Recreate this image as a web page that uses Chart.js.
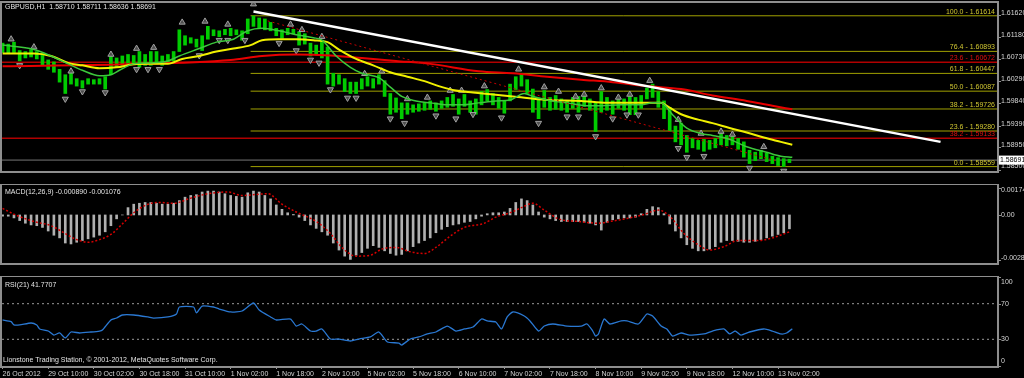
<!DOCTYPE html>
<html>
<head>
<meta charset="utf-8">
<script src="https://cdn.jsdelivr.net/npm/chart.js@4.4.0/dist/chart.umd.min.js"></script>
<style>
  html, body { margin: 0; padding: 0; background: #000; }
  #wrap { position: relative; width: 1024px; height: 378px; background: #000; overflow: hidden; }
  canvas { position: absolute; left: 0; }
</style>
</head>
<body>
<div id="wrap">
  <canvas id="main" width="1024" height="184" style="top:0px"></canvas>
  <canvas id="macd" width="1024" height="92" style="top:184px"></canvas>
  <canvas id="rsi" width="1024" height="102" style="top:276px"></canvas>
</div>
<script>
// ---- data (x = hourly bar number from 26 Oct 18:00) ----
var headerText = 'GBPUSD,H1  1.58710 1.58711 1.58636 1.58691';
var macdText = 'MACD(12,26,9) -0.000890 -0.001076';
var rsiText = 'RSI(21) 41.7707';
var footerText = 'Lionstone Trading Station, \u00a9 2001-2012, MetaQuotes Software Corp.';

var xTickLabels = ['26 Oct 2012', '29 Oct 10:00', '30 Oct 02:00', '30 Oct 18:00', '31 Oct 10:00',
  '1 Nov 02:00', '1 Nov 18:00', '2 Nov 10:00', '5 Nov 02:00', '5 Nov 18:00', '6 Nov 10:00',
  '7 Nov 02:00', '7 Nov 18:00', '8 Nov 10:00', '9 Nov 02:00', '9 Nov 18:00', '12 Nov 10:00', '13 Nov 02:00'];
var xTickStep = 16;
var xMin = -0.2, xMax = 348.8;

var priceTicks = [1.61620, 1.61180, 1.60730, 1.60290, 1.59840, 1.59390, 1.58950, 1.58500];
var macdTicks = [0.00174, 0, -0.00287];
var macdTickText = ['0.00174', '0.00', '-0.00287'];
var rsiTicks = [100, 70, 30, 0];
var rsiLevels = [70, 30];
var lastClose = 1.58691;

// one candle range per 2 bars
var candleStep = 2;
var candleHigh = [
  1.6106, 1.6104, 1.6108, 1.6091, 1.6089, 1.6093, 1.6089, 1.6085, 1.6072, 1.6068,
  1.6053, 1.6042, 1.6045, 1.6034, 1.6030, 1.6034, 1.6032, 1.6034, 1.6038, 1.6080,
  1.6076, 1.6080, 1.6083, 1.6081, 1.6089, 1.6083, 1.6089, 1.6089, 1.6080, 1.6083,
  1.6089, 1.6133, 1.6121, 1.6117, 1.6114, 1.6121, 1.6140, 1.6133, 1.6131, 1.6134,
  1.6136, 1.6133, 1.6131, 1.6155, 1.6161, 1.6157, 1.6155, 1.6148, 1.6136, 1.6133,
  1.6136, 1.6134, 1.6129, 1.6125, 1.6106, 1.6102, 1.6112, 1.6098, 1.6045, 1.6042,
  1.6034, 1.6027, 1.6027, 1.6034, 1.6038, 1.6034, 1.6042, 1.6030, 1.6004, 1.5995,
  1.5985, 1.5985, 1.5981, 1.5983, 1.5985, 1.5989, 1.5985, 1.5989, 1.5996, 1.6002,
  1.5993, 1.6002, 1.5989, 1.5993, 1.6008, 1.6012, 1.6004, 1.5996, 1.5989, 1.6023,
  1.6038, 1.6045, 1.6032, 1.6013, 1.5995, 1.6010, 1.5996, 1.6000, 1.5993, 1.5989,
  1.5996, 1.5998, 1.6002, 1.5993, 1.5985, 1.6008, 1.5996, 1.5989, 1.5996, 1.5993,
  1.6002, 1.5996, 1.6000, 1.6015, 1.6023, 1.6008, 1.5989, 1.5976, 1.5938, 1.5944,
  1.5919, 1.5913, 1.5909, 1.5911, 1.5909, 1.5913, 1.5927, 1.5919, 1.5921, 1.5913,
  1.5906, 1.5889, 1.5885, 1.5889, 1.5883, 1.5877, 1.5874, 1.5872, 1.5871
];
var candleLow = [
  1.6087, 1.6085, 1.6087, 1.6070, 1.6076, 1.6078, 1.6074, 1.6061, 1.6053, 1.6047,
  1.6027, 1.6004, 1.6023, 1.6019, 1.6015, 1.6023, 1.6023, 1.6023, 1.6013, 1.6042,
  1.6057, 1.6061, 1.6064, 1.6063, 1.6057, 1.6061, 1.6061, 1.6064, 1.6061, 1.6068,
  1.6070, 1.6089, 1.6102, 1.6106, 1.6098, 1.6091, 1.6114, 1.6121, 1.6119, 1.6123,
  1.6121, 1.6123, 1.6112, 1.6125, 1.6140, 1.6136, 1.6133, 1.6131, 1.6121, 1.6116,
  1.6123, 1.6125, 1.6102, 1.6104, 1.6080, 1.6083, 1.6076, 1.6023, 1.6019, 1.6023,
  1.6008, 1.6004, 1.6004, 1.6013, 1.6019, 1.6015, 1.6023, 1.5998, 1.5962, 1.5966,
  1.5953, 1.5962, 1.5966, 1.5968, 1.5970, 1.5972, 1.5968, 1.5974, 1.5976, 1.5978,
  1.5962, 1.5978, 1.5966, 1.5962, 1.5981, 1.5989, 1.5981, 1.5974, 1.5964, 1.5989,
  1.6012, 1.6019, 1.6004, 1.5966, 1.5953, 1.5976, 1.5970, 1.5972, 1.5970, 1.5966,
  1.5974, 1.5966, 1.5978, 1.5970, 1.5927, 1.5966, 1.5970, 1.5962, 1.5974, 1.5970,
  1.5961, 1.5961, 1.5974, 1.5993, 1.5996, 1.5976, 1.5953, 1.5928, 1.5906, 1.5900,
  1.5885, 1.5894, 1.5891, 1.5887, 1.5891, 1.5894, 1.5900, 1.5898, 1.5900, 1.5891,
  1.5875, 1.5862, 1.5868, 1.5872, 1.5866, 1.5862, 1.5858, 1.5856, 1.5864
];

// moving averages, [bar, price]
var greenMA = [[0, 1.6102], [11, 1.6093], [17, 1.6080], [23, 1.6064], [28, 1.6051], [34, 1.6040], [38, 1.6042],
  [41, 1.6051], [46, 1.6064], [52, 1.6066], [58, 1.6070], [62, 1.6080], [69, 1.6095], [75, 1.6108], [81, 1.6114],
  [86, 1.6131], [91, 1.6136], [97, 1.6131], [103, 1.6123], [109, 1.6117], [112, 1.6112], [117, 1.6080],
  [122, 1.6057], [126, 1.6045], [132, 1.6036], [136, 1.6017], [140, 1.5998], [145, 1.5989], [150, 1.5985],
  [156, 1.5981], [161, 1.5981], [167, 1.5985], [173, 1.5989], [178, 1.5991], [183, 1.6004], [186, 1.5998],
  [191, 1.5991], [198, 1.5985], [205, 1.5979], [210, 1.5979], [217, 1.5981], [224, 1.5981], [228, 1.5985],
  [231, 1.5985], [235, 1.5961], [240, 1.5934], [245, 1.5923], [249, 1.5919], [254, 1.5913], [256, 1.5909],
  [261, 1.5896], [268, 1.5885], [273, 1.5877], [277, 1.5875]];
var yellowMA = [[0, 1.6085], [11, 1.6085], [17, 1.6080], [23, 1.6066], [28, 1.6061], [34, 1.6055], [40, 1.6057],
  [46, 1.6063], [52, 1.6064], [58, 1.6064], [63, 1.6074], [69, 1.6080], [75, 1.6089], [81, 1.6095], [87, 1.6102],
  [91, 1.6112], [97, 1.6114], [103, 1.6114], [109, 1.6112], [114, 1.6108], [118, 1.6093], [124, 1.6074],
  [130, 1.6061], [136, 1.6047], [142, 1.6038], [148, 1.6029], [153, 1.6019], [159, 1.6010], [165, 1.6006],
  [179, 1.5998], [191, 1.5991], [203, 1.5989], [212, 1.5985], [226, 1.5985], [231, 1.5985], [233, 1.5979],
  [238, 1.5962], [244, 1.5951], [249, 1.5944], [255, 1.5934], [261, 1.5925], [267, 1.5915], [273, 1.5906],
  [277, 1.5900]];
var redMA = [[0, 1.6059], [43, 1.6063], [80, 1.6072], [91, 1.6080], [103, 1.6083], [115, 1.6081], [126, 1.6076],
  [138, 1.6070], [150, 1.6064], [167, 1.6049], [179, 1.6045], [191, 1.6038], [203, 1.6032], [214, 1.6027],
  [226, 1.6019], [238, 1.6013], [249, 1.6000], [261, 1.5989], [270, 1.5979], [277, 1.5972]];

// fractal markers, [bar, price]
var fractalUp = [[3, 1.6114], [11, 1.6098], [24, 1.6049], [38, 1.6083], [47, 1.6095], [53, 1.6097], [63, 1.6148],
  [71, 1.6150], [79, 1.6144], [88, 1.6185], [101, 1.6144], [105, 1.6133], [112, 1.6119], [127, 1.6044],
  [133, 1.6049], [142, 1.5993], [149, 1.5996], [157, 1.6010], [161, 1.6010], [169, 1.6019], [181, 1.6053],
  [190, 1.6017], [195, 1.6008], [201, 1.5998], [204, 1.6002], [210, 1.6015], [216, 1.5996], [220, 1.6002],
  [227, 1.6030], [237, 1.5951], [245, 1.5923], [252, 1.5927], [256, 1.5921], [267, 1.5896]];
var fractalDown = [[6, 1.6061], [22, 1.5993], [28, 1.6008], [36, 1.6006], [47, 1.6053], [51, 1.6053], [55, 1.6053],
  [69, 1.6081], [76, 1.6112], [79, 1.6112], [85, 1.6112], [97, 1.6106], [103, 1.6091], [108, 1.6072],
  [111, 1.6066], [115, 1.6012], [121, 1.5995], [124, 1.5995], [136, 1.5953], [141, 1.5944], [152, 1.5959],
  [159, 1.5953], [165, 1.5962], [175, 1.5955], [188, 1.5944], [198, 1.5957], [202, 1.5957], [208, 1.5917],
  [214, 1.5953], [219, 1.5961], [223, 1.5961], [237, 1.5893], [240, 1.5875], [246, 1.5877], [262, 1.5853],
  [274, 1.5847]];

// trend lines and fibo levels
var whiteTrend = [[88, 1.6170], [329, 1.5906]];
var redTrend = [[93, 1.6151], [271, 1.5868]];
var fibStart = 87;
var fibPct = ['100.0', '76.4', '61.8', '50.0', '38.2', '23.6', '0.0'];
var fibLevels = [1.61614, 1.60893, 1.60447, 1.60087, 1.59726, 1.59280, 1.58559];
var redFibPct = ['23.6', '38.2'];
var redFibLevels = [1.60672, 1.59133];

// MACD histogram (one per 2 bars) and signal [bar, value]
var macdHist = [
  -0.00008, -0.00008, -0.00019, -0.00036, -0.00053, -0.00064, -0.00069, -0.00080, -0.00103, -0.00130,
  -0.00147, -0.00180, -0.00186, -0.00175, -0.00164, -0.00153, -0.00142, -0.00130, -0.00108, -0.00069,
  -0.00025, 0.00000, 0.00047, 0.00069, 0.00075, 0.00080, 0.00080, 0.00075, 0.00069, 0.00069,
  0.00075, 0.00092, 0.00114, 0.00125, 0.00130, 0.00147, 0.00153, 0.00153, 0.00147, 0.00136,
  0.00125, 0.00119, 0.00114, 0.00142, 0.00153, 0.00147, 0.00125, 0.00103, 0.00064, 0.00036,
  0.00014, 0.00003, -0.00014, -0.00036, -0.00064, -0.00086, -0.00108, -0.00130, -0.00180, -0.00225,
  -0.00264, -0.00285, -0.00258, -0.00241, -0.00214, -0.00197, -0.00208, -0.00230, -0.00247, -0.00258,
  -0.00253, -0.00230, -0.00203, -0.00180, -0.00164, -0.00147, -0.00114, -0.00092, -0.00075, -0.00064,
  -0.00058, -0.00047, -0.00042, -0.00025, -0.00008, 0.00008, 0.00014, 0.00014, 0.00019, 0.00042,
  0.00080, 0.00103, 0.00092, 0.00064, 0.00019, -0.00014, -0.00025, -0.00036, -0.00042, -0.00042,
  -0.00042, -0.00042, -0.00047, -0.00053, -0.00064, -0.00097, -0.00047, -0.00031, -0.00025, -0.00019,
  -0.00019, -0.00014, 0.00008, 0.00036, 0.00053, 0.00047, 0.00008, -0.00058, -0.00103, -0.00147,
  -0.00191, -0.00214, -0.00230, -0.00230, -0.00219, -0.00203, -0.00175, -0.00164, -0.00164, -0.00169,
  -0.00175, -0.00175, -0.00169, -0.00158, -0.00147, -0.00136, -0.00125, -0.00114, -0.00089
];
var macdSignal = [[0, 0.00042], [5, -0.00003], [11, -0.00042], [17, -0.00069], [23, -0.00130], [26, -0.00158],
  [30, -0.00175], [33, -0.00164], [38, -0.00125], [42, -0.00058], [46, 0.00014], [51, 0.00069], [55, 0.00080],
  [60, 0.00075], [66, 0.00108], [72, 0.00136], [79, 0.00147], [84, 0.00125], [93, 0.00136], [98, 0.00069],
  [103, 0.00019], [110, -0.00042], [115, -0.00119], [119, -0.00208], [124, -0.00264], [129, -0.00258],
  [133, -0.00219], [138, -0.00208], [143, -0.00236], [148, -0.00247], [152, -0.00208], [157, -0.00136],
  [162, -0.00080], [169, -0.00053], [173, -0.00014], [178, 0.00014], [182, 0.00047], [186, 0.00075],
  [190, 0.00031], [195, -0.00025], [202, -0.00042], [209, -0.00053], [213, -0.00042], [220, -0.00019],
  [225, 0.00003], [230, 0.00031], [234, -0.00008], [239, -0.00119], [244, -0.00191], [248, -0.00225],
  [253, -0.00203], [258, -0.00164], [265, -0.00164], [270, -0.00147], [276, -0.00108]];

// RSI(21), [bar, value]
var rsiLine = [[0, 51.7], [3, 49.8], [4, 46.1], [6, 46.1], [10, 48.3], [12, 46.1], [13, 41.6], [16, 39.3],
  [18, 34.8], [20, 37.1], [22, 31.5], [24, 38.2], [27, 37.1], [31, 38.2], [34, 39.3], [35, 40.4], [38, 51.7],
  [40, 53.9], [42, 57.3], [46, 57.3], [51, 55.1], [53, 53.9], [58, 55.1], [61, 58.4], [62, 66.3], [67, 66.3],
  [68, 59.6], [70, 67.4], [74, 66.3], [76, 64.0], [80, 60.7], [84, 61.8], [88, 70.8], [90, 62.9], [94, 55.1],
  [96, 51.7], [101, 52.8], [103, 44.9], [105, 47.2], [108, 39.3], [110, 39.3], [112, 41.6], [115, 30.3],
  [118, 30.3], [122, 28.1], [125, 30.3], [129, 32.6], [132, 38.2], [135, 27.0], [139, 25.8], [140, 23.6],
  [143, 30.3], [146, 32.6], [149, 36.0], [152, 38.2], [156, 44.9], [159, 39.3], [162, 41.6], [165, 43.8],
  [168, 52.8], [170, 50.6], [173, 49.4], [175, 41.6], [177, 55.1], [179, 60.7], [183, 56.2], [185, 50.6],
  [188, 39.3], [190, 44.9], [193, 47.2], [198, 44.9], [203, 44.9], [205, 47.2], [207, 39.3], [208, 33.7],
  [209, 36.0], [211, 52.8], [213, 47.2], [217, 50.6], [219, 50.6], [223, 47.2], [226, 58.4], [228, 56.2],
  [231, 44.9], [233, 41.6], [235, 33.7], [238, 37.1], [241, 34.8], [246, 36.0], [249, 39.3], [253, 41.6],
  [255, 36.0], [257, 39.3], [259, 34.8], [262, 38.2], [267, 41.6], [270, 39.3], [273, 36.0], [275, 37.1],
  [277, 41.8]];

// ---- helpers ----
var FONT = '"Liberation Sans", Arial, sans-serif';

function pts(arr) {
  return arr.map(function (p) { return { x: p[0], y: p[1] }; });
}
function hline(from, to, v) {
  return [{ x: from, y: v }, { x: to, y: v }];
}

function xScale(showTicks) {
  return {
    type: 'linear', min: xMin, max: xMax, offset: false, display: showTicks,
    grid: { display: true, drawOnChartArea: false, drawTicks: true, tickLength: 3, color: '#9a9a9a' },
    border: { display: false },
    afterBuildTicks: function (s) {
      s.ticks = xTickLabels.map(function (t, i) { return { value: i * xTickStep }; });
    },
    afterFit: function (s) { s.height = 12; },
    ticks: {
      autoSkip: false, maxRotation: 0, minRotation: 0, align: 'start', padding: 1,
      color: '#d2d2d2', font: { family: FONT, size: 7 },
      callback: function (v) { return xTickLabels[Math.round(v / xTickStep)]; }
    }
  };
}

// frame, right axis, fibo labels and captions
var panelPlugin = {
  id: 'panel',
  afterDraw: function (chart, args, o) {
    var ctx = chart.ctx, a = chart.chartArea, ys = chart.scales.y;
    if (!o || !o.ticks) return;
    ctx.save();
    ctx.font = '7px ' + FONT;
    ctx.textBaseline = 'middle';

    (o.fibs || []).forEach(function (f) {
      var py = ys.getPixelForValue(f.level);
      ctx.fillStyle = f.color;
      ctx.textAlign = 'right';
      ctx.fillText(f.text, a.right - 2, py - 4);
    });

    ctx.strokeStyle = '#8e8e8e';
    ctx.lineWidth = 2;
    ctx.strokeRect(a.left - 1, a.top - 1, a.right - a.left + 2, a.bottom - a.top + 2);

    ctx.lineWidth = 1;
    ctx.textAlign = 'left';
    ctx.fillStyle = '#d6d6d6';
    o.ticks.forEach(function (v, i) {
      var py = ys.getPixelForValue(v);
      ctx.beginPath();
      ctx.moveTo(a.right + 1, Math.round(py) + 0.5);
      ctx.lineTo(a.right + 4, Math.round(py) + 0.5);
      ctx.stroke();
      var ty = Math.min(Math.max(py + (o.dy || 0), a.top + 5), a.bottom - 5);
      ctx.fillText(o.tickText[i], a.right + 4, ty);
    });

    if (o.priceBox) {
      var pb = ys.getPixelForValue(o.priceBox);
      ctx.fillStyle = '#ffffff';
      ctx.fillRect(a.right + 2, pb - 4.5, 1024 - a.right - 2, 9);
      ctx.fillStyle = '#000000';
      ctx.fillText(o.priceBox.toFixed(5), a.right + 3, pb);
    }

    ctx.fillStyle = '#e4e4e4';
    (o.captions || []).forEach(function (c) {
      ctx.fillText(c.text, c.x, c.y);
    });
    ctx.restore();
  }
};
Chart.register(panelPlugin);

function baseOptions(yMin, yMax, pad, showX, panel) {
  return {
    responsive: false, animation: false, devicePixelRatio: 1, events: [],
    layout: { autoPadding: false, padding: pad },
    scales: {
      x: xScale(showX),
      y: { type: 'linear', min: yMin, max: yMax, display: false }
    },
    plugins: { legend: { display: false }, tooltip: { enabled: false }, panel: panel }
  };
}

// ---- main price panel ----
var mainSets = [];
mainSets.push({ type: 'line', data: pts(whiteTrend), borderColor: '#ffffff', borderWidth: 2.5, pointRadius: 0, order: 1 });
mainSets.push({ type: 'line', data: pts(redTrend), borderColor: '#c80000', borderWidth: 1, borderDash: [2, 3], pointRadius: 0, order: 2 });
mainSets.push({ type: 'line', data: pts(greenMA), borderColor: '#3cc83c', borderWidth: 1.5, pointRadius: 0, cubicInterpolationMode: 'monotone', order: 3 });
mainSets.push({ type: 'line', data: pts(yellowMA), borderColor: '#f0f000', borderWidth: 2, pointRadius: 0, cubicInterpolationMode: 'monotone', order: 4 });
mainSets.push({ type: 'line', data: pts(redMA), borderColor: '#e80000', borderWidth: 2, pointRadius: 0, cubicInterpolationMode: 'monotone', order: 5 });
mainSets.push({ type: 'scatter', data: pts(fractalUp), pointStyle: 'triangle', pointRadius: 3.5, backgroundColor: '#4e4e4e', borderColor: '#a0a0a0', borderWidth: 1, order: 6 });
mainSets.push({ type: 'scatter', data: pts(fractalDown), pointStyle: 'triangle', rotation: 180, pointRadius: 3.5, backgroundColor: '#4e4e4e', borderColor: '#a0a0a0', borderWidth: 1, order: 6 });
mainSets.push({
  type: 'bar', order: 7, barThickness: 3, borderWidth: 0, backgroundColor: '#00cc00',
  data: candleHigh.map(function (h, k) { return { x: k * candleStep, y: [candleLow[k], h] }; })
});
fibLevels.forEach(function (lv) {
  mainSets.push({ type: 'line', data: hline(fibStart, xMax, lv), borderColor: '#a0a000', borderWidth: 1, pointRadius: 0, order: 8 });
});
redFibLevels.forEach(function (lv) {
  mainSets.push({ type: 'line', data: hline(xMin, xMax, lv), borderColor: '#b00000', borderWidth: 1.5, pointRadius: 0, order: 8 });
});
mainSets.push({ type: 'line', data: hline(xMin, xMax, lastClose), borderColor: '#777777', borderWidth: 1, pointRadius: 0, order: 9 });

var fibTexts = fibLevels.map(function (lv, i) {
  return { level: lv, text: fibPct[i] + ' - ' + lv.toFixed(5), color: '#d2c832' };
}).concat(redFibLevels.map(function (lv, i) {
  return { level: lv, text: redFibPct[i] + ' - ' + lv.toFixed(5), color: '#e01010' };
}));

new Chart(document.getElementById('main'), {
  type: 'bar',
  data: { datasets: mainSets },
  options: baseOptions(1.58470, 1.61873, { left: 2, right: 27, top: 3, bottom: 1 }, false, {
    ticks: priceTicks, tickText: priceTicks.map(function (v) { return v.toFixed(5); }), dy: -2,
    fibs: fibTexts, priceBox: lastClose,
    captions: [{ text: headerText, x: 5, y: 7.5 }]
  })
});

// ---- MACD panel ----
new Chart(document.getElementById('macd'), {
  type: 'bar',
  data: {
    datasets: [
      { type: 'line', data: pts(macdSignal), borderColor: '#d40000', borderWidth: 1.5, borderDash: [2, 2], pointRadius: 0, cubicInterpolationMode: 'monotone', order: 1 },
      { type: 'bar', order: 2, barThickness: 2, borderWidth: 0, backgroundColor: '#b0b0b0',
        data: macdHist.map(function (v, k) { return { x: k * candleStep, y: v }; }) }
    ]
  },
  options: baseOptions(-0.00308, 0.00192, { left: 2, right: 27, top: 1, bottom: 1 }, false, {
    ticks: macdTicks, tickText: macdTickText, dy: 0,
    captions: [{ text: macdText, x: 5, y: 8.5 }]
  })
});

// ---- RSI panel ----
var rsiSets = [
  { type: 'line', data: pts(rsiLine), borderColor: '#2a78d2', borderWidth: 1.3, pointRadius: 0, tension: 0.2, order: 1 }
];
rsiLevels.forEach(function (lv) {
  rsiSets.push({ type: 'line', data: hline(xMin, xMax, lv), borderColor: '#9a9a9a', borderWidth: 1, borderDash: [2, 3], pointRadius: 0, order: 2 });
});
new Chart(document.getElementById('rsi'), {
  type: 'line',
  data: { datasets: rsiSets },
  options: baseOptions(0, 100, { left: 2, right: 27, top: 1, bottom: 0 }, true, {
    ticks: rsiTicks, tickText: rsiTicks.map(String), dy: 0,
    captions: [{ text: rsiText, x: 5, y: 9 }, { text: footerText, x: 3, y: 84 }]
  })
});
</script>
</body>
</html>
